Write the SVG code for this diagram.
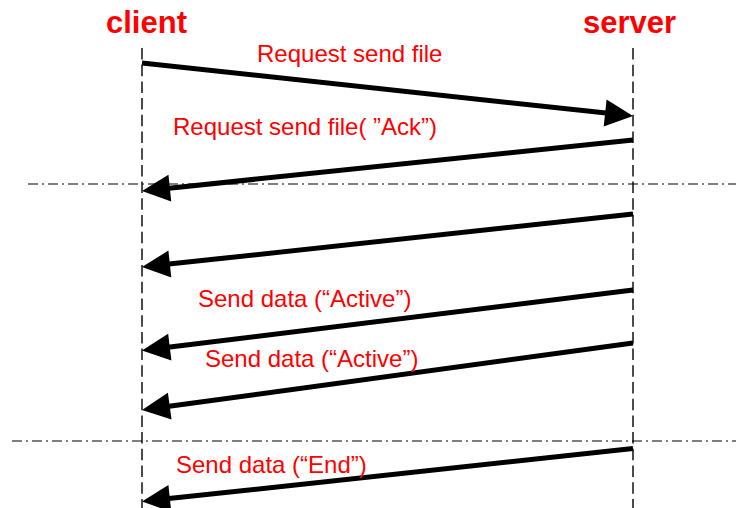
<svg xmlns="http://www.w3.org/2000/svg" width="736" height="508" viewBox="0 0 736 508">
  <style>
    .actor { font-family: "Liberation Sans", Arial, sans-serif; font-weight: bold; font-size: 31px; fill: #ff0000; }
    .label { font-family: "Liberation Sans", Arial, sans-serif; font-size: 24px; fill: #ff0000; }
    .lifeline { stroke: #000; stroke-width: 1.4; stroke-dasharray: 11.5 5.2; fill: none; }
    .divider { stroke: #000; stroke-width: 1.2; stroke-dasharray: 10 4 2 4; fill: none; }
    .msg { stroke: #000; stroke-width: 5; fill: none; marker-end: url(#head); }
  </style>
  <defs>
    <marker id="head" markerUnits="userSpaceOnUse" markerWidth="28" markerHeight="27" refX="8" refY="13.5" orient="auto" overflow="visible">
      <path d="M0,0 L28,13.5 L0,27 Z" fill="#000"/>
    </marker>
  </defs>

  <g id="client">
    <text class="actor" x="106" y="33">client</text>
    <line class="lifeline" x1="142" y1="48" x2="142" y2="508"/>
  </g>
  <g id="server">
    <text class="actor" x="583" y="33">server</text>
    <line class="lifeline" x1="633" y1="48" x2="633" y2="508"/>
  </g>

  <g id="dividers">
    <line class="divider" x1="28" y1="184" x2="736" y2="184"/>
    <line class="divider" x1="12" y1="441" x2="736" y2="441"/>
  </g>

  <g id="connectors">
    <line class="msg" x1="142" y1="63" x2="613.1" y2="113.85"/>
    <line class="msg" x1="633" y1="140" x2="161.9" y2="188.9"/>
    <line class="msg" x1="633" y1="214" x2="161.9" y2="264.85"/>
    <line class="msg" x1="633" y1="290" x2="161.85" y2="348.05"/>
    <line class="msg" x1="633" y1="343" x2="161.8" y2="407.3"/>
    <line class="msg" x1="633" y1="448.5" x2="161.9" y2="499.35"/>
  </g>

  <g id="labels">
    <text class="label" x="257" y="62">Request send file</text>
    <text class="label" x="173" y="135">Request send file( ”Ack”)</text>
    <text class="label" x="198" y="307">Send data (“Active”)</text>
    <text class="label" x="205" y="367">Send data (“Active”)</text>
    <text class="label" x="176" y="473">Send data (“End”)</text>
  </g>
</svg>
